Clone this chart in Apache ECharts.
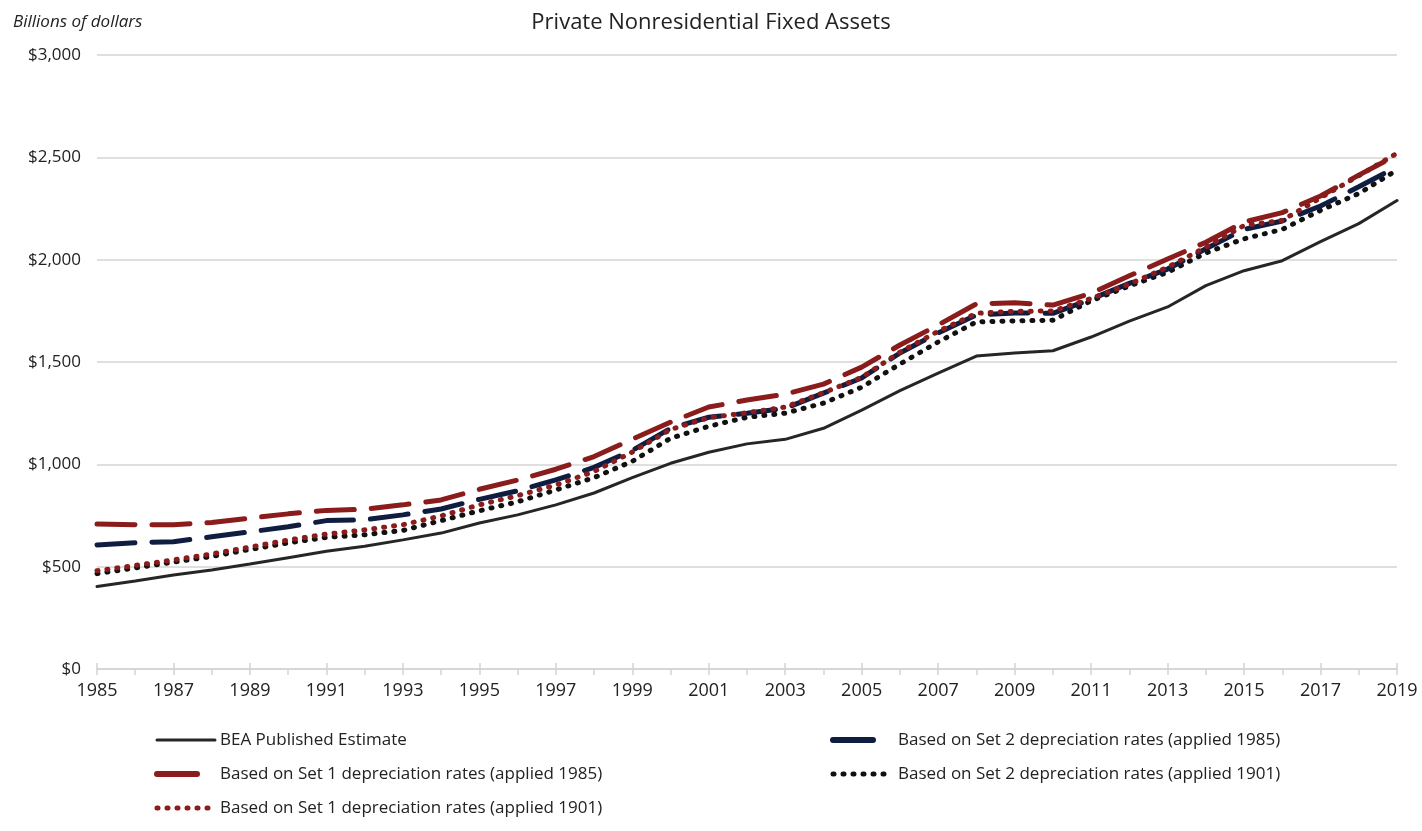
<!DOCTYPE html>
<html>
<head>
<meta charset="utf-8">
<script src="https://cdn.jsdelivr.net/npm/echarts@6/dist/echarts.min.js"></script>
<style>
  html, body { margin: 0; padding: 0; background: #fff; }
  #main { width: 1422px; height: 831px; }
</style>
</head>
<body>
<div id="main"></div>
<script>
var years = ['1985','1986','1987','1988','1989','1990','1991','1992','1993','1994',
             '1995','1996','1997','1998','1999','2000','2001','2002','2003','2004',
             '2005','2006','2007','2008','2009','2010','2011','2012','2013','2014',
             '2015','2016','2017','2018','2019'];

// billions of dollars
var beaPublished = [403,430,459,484,513,544,575,600,631,664,
                    713,753,802,860,935,1005,1059,1100,1122,1176,
                    1265,1360,1446,1529,1544,1555,1622,1700,1769,1873,
                    1946,1995,2088,2176,2289];
var set1Applied1985 = [708,705,705,716,737,758,775,781,802,826,
                       878,923,976,1038,1123,1206,1280,1314,1343,1392,
                       1475,1583,1681,1784,1789,1778,1836,1921,2003,2085,
                       2184,2230,2311,2413,2512];
var set1Applied1901 = [480,506,533,562,596,630,659,680,705,748,
                       802,847,899,965,1060,1170,1228,1252,1280,1350,
                       1425,1548,1650,1738,1748,1749,1810,1881,1963,2061,
                       2167,2192,2302,2410,2520];
var set2Applied1985 = [606,617,622,646,670,695,725,729,753,782,
                       829,871,924,985,1068,1176,1230,1250,1274,1348,
                       1422,1544,1642,1730,1740,1738,1807,1884,1954,2053,
                       2148,2189,2262,2356,2454];
var set2Applied1901 = [466,494,522,550,584,616,643,656,677,725,
                       773,817,875,935,1015,1127,1186,1230,1250,1299,
                       1377,1490,1598,1696,1701,1704,1799,1872,1938,2033,
                       2102,2148,2241,2323,2438];

var names = {
    bea: 'BEA Published Estimate',
    s1a: 'Based on Set 1 depreciation rates (applied 1985)',
    s1b: 'Based on Set 1 depreciation rates (applied 1901)',
    s2a: 'Based on Set 2 depreciation rates (applied 1985)',
    s2b: 'Based on Set 2 depreciation rates (applied 1901)'
};

var RED = '#8a1c1c', NAVY = '#0f1d40', BLACK = '#111111', SOLID = '#262626';
var FONT = '"Open Sans", "Noto Sans", sans-serif';
var DASH = [38, 17], DOT = [1, 9];

function lineSeries(name, data, color, width, dash, z) {
    return {
        name: name,
        type: 'line',
        data: data,
        symbol: 'none',
        z: z,
        silent: true,
        lineStyle: { color: color, width: width, type: dash, cap: 'round' },
        itemStyle: { color: color }
    };
}

// legend swatch: one long dash for the dashed series, a row of dots for the dotted ones
function legendItem(name, color, width, dash) {
    return {
        name: name,
        lineStyle: { color: color, width: width, type: dash, cap: 'round' }
    };
}

var legendText = { fontFamily: FONT, fontSize: 17, color: '#222', lineHeight: 20 };

var myChart = echarts.init(document.getElementById('main'));

var option = {
    animation: false,
    backgroundColor: '#fff',
    title: {
        text: 'Private Nonresidential Fixed Assets',
        left: 'center',
        top: 7,
        textStyle: { fontFamily: FONT, fontSize: 22, fontWeight: 'normal', color: '#222' }
    },
    graphic: [{
        type: 'text',
        left: 13,
        top: 14,
        style: {
            text: 'Billions of dollars',
            font: 'italic 17px ' + FONT,
            fill: '#222'
        }
    }],
    legend: [{
        left: 154,
        top: 730,
        padding: 0,
        orient: 'vertical',
        itemWidth: 58,
        itemHeight: 14,
        itemGap: 14,
        itemStyle: { opacity: 0 },
        data: [
            legendItem(names.bea, SOLID, 3, 'solid'),
            legendItem(names.s1a, RED, 6, [40, 40]),
            legendItem(names.s1b, RED, 5, DOT)
        ],
        textStyle: legendText
    }, {
        left: 830,
        top: 730,
        padding: 0,
        orient: 'vertical',
        itemWidth: 60,
        itemHeight: 14,
        itemGap: 14,
        itemStyle: { opacity: 0 },
        data: [
            legendItem(names.s2a, NAVY, 6, [40, 40]),
            legendItem(names.s2b, BLACK, 5, DOT)
        ],
        textStyle: legendText
    }],
    grid: { left: 97, right: 25, top: 55, bottom: 162, containLabel: false },
    xAxis: [{
        type: 'category',
        data: years,
        boundaryGap: false,
        axisLine: { lineStyle: { color: '#d4d4d4', width: 1.5 } },
        axisTick: { show: true, interval: 0, length: 6, inside: false, lineStyle: { color: '#d4d4d4', width: 1.5 } },
        axisLabel: { interval: 1, margin: 13, fontFamily: FONT, fontSize: 18, color: '#222' },
        splitLine: { show: false }
    }, {
        type: 'category',
        data: years,
        boundaryGap: false,
        position: 'bottom',
        axisLine: { show: false },
        axisTick: { show: true, interval: 1, length: 6, inside: true, lineStyle: { color: '#d4d4d4', width: 1.5 } },
        axisLabel: { show: false },
        splitLine: { show: false }
    }],
    yAxis: {
        type: 'value',
        min: 0,
        max: 3000,
        interval: 500,
        axisLine: { show: false },
        axisTick: { show: false },
        splitLine: { lineStyle: { color: '#d4d4d4', width: 1.5 } },
        axisLabel: {
            margin: 16,
            fontFamily: FONT,
            fontSize: 17,
            color: '#222',
            formatter: function (v) { return '$' + v.toLocaleString('en-US'); }
        }
    },
    series: [
        lineSeries(names.bea, beaPublished, SOLID, 3, 'solid', 2),
        lineSeries(names.s2b, set2Applied1901, BLACK, 5, DOT, 3),
        lineSeries(names.s2a, set2Applied1985, NAVY, 5, DASH, 4),
        lineSeries(names.s1a, set1Applied1985, RED, 5, DASH, 5),
        lineSeries(names.s1b, set1Applied1901, RED, 5, DOT, 6)
    ]
};

myChart.setOption(option);
</script>
</body>
</html>
